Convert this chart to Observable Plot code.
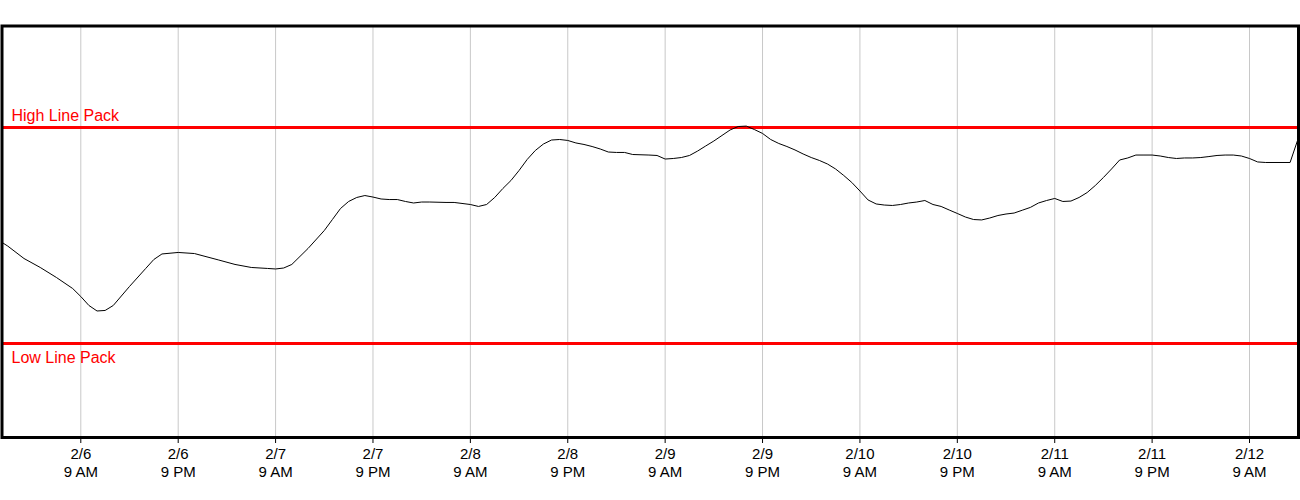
<!DOCTYPE html>
<html>
<head>
<meta charset="utf-8">
<script src="https://cdn.jsdelivr.net/npm/d3@7"></script>
<script src="https://cdn.jsdelivr.net/npm/@observablehq/plot@0.6"></script>
<style>
  html, body { margin: 0; padding: 0; background: #fff; }
  #chart svg { display: block; }
</style>
</head>
<body>
<div id="chart"></div>
<script>
// ---- Data ----
const startTime = "2021-02-05T23:00";
const endTime = "2021-02-12T15:00";

// hours elapsed since startTime
const hours = [0,1,3,5,7,9,10,11,12,13,14,16,18,19,20,22,24,27,29,31,33,34,35,36,38,40,41,42,43,44,45,46,47,48,49,50,51,52,53,55,56,58,59,60,61,62,63,64,65,66,67,68,69,70,71,72,73,74,75,76,77,78,80,81,82,83,84,85,86,87,88,89,90,91,92,93,94,95,96,97,98,99,100,101,102,103,104,105,106,107,108,109,110,111,112,113,114,115,116,117,118,119,120,121,122,123,124,125,126,127,128,129,130,131,132,133,134,135,136,137,138,139,140,141,142,143,144,145,146,147,148,149,150,151,152,153,154,155,156,159,160];

// line pack value at each hour
const linePack = [495,490.2,478.7,470.4,461.1,450.9,443.5,435.2,430.1,430.6,435.2,452.8,469.5,477.8,482.9,484.3,483.3,477.3,473.2,470.4,469.5,469,469.9,473.2,488,504.6,514.8,525,531.5,535.2,537,535.6,533.8,533.3,533.3,531.5,530.1,531,531,530.6,530.6,528.7,526.9,528.7,535.2,543.5,550.9,560.2,570.4,578.7,584.7,588.4,588.9,588,585.7,584.3,582.4,580.1,577.3,576.9,576.9,575,574.5,574.1,570.8,571.3,572.2,574.1,578.2,582.9,587.5,592.6,597.7,600.9,601.3,598.1,594.5,588.9,585.2,582.4,579.2,575.5,572.2,569.5,566.2,561.6,555.6,549.1,541.2,532.9,529.2,528.2,527.8,528.7,530.1,531,532.4,528.7,526.9,523.6,520.4,517.1,514.8,514.4,516.2,518.5,519.9,520.8,523.4,526,530.1,532.4,534.3,531.5,531.9,535.2,539.8,546.3,553.7,561.6,569.9,571.8,574.5,574.5,574.5,573.6,572.2,571.3,571.8,571.8,572.2,573.1,574.1,574.5,574.5,573.6,571.3,568.1,567.6,567.6,589.8];

const limitLabels = ["High Line Pack", "Low Line Pack"];
const limitValues = [600, 400];

const tickTimes = ["2021-02-06T09:00","2021-02-06T21:00","2021-02-07T09:00","2021-02-07T21:00","2021-02-08T09:00","2021-02-08T21:00","2021-02-09T09:00","2021-02-09T21:00","2021-02-10T09:00","2021-02-10T21:00","2021-02-11T09:00","2021-02-11T21:00","2021-02-12T09:00"];

// ---- Build tables ----
const t0 = new Date(startTime);
const series = hours.map((h, i) => ({ time: new Date(t0.getTime() + h * 3600e3), value: linePack[i] }));
const ticks = tickTimes.map(s => new Date(s));
const limits = limitLabels.map((label, i) => ({ label, value: limitValues[i] }));

const fmt = d => {
  const h = d.getHours();
  return `${d.getMonth() + 1}/${d.getDate()}\n${((h + 11) % 12) + 1} ${h < 12 ? "AM" : "PM"}`;
};

const chart = Plot.plot({
  width: 1300,
  height: 500,
  marginTop: 25.5,
  marginBottom: 63,
  marginLeft: 1.5,
  marginRight: 2,
  style: { fontFamily: "'Liberation Sans', Arial, sans-serif", fontSize: "15px", background: "#fff", color: "#000" },
  x: { type: "time", domain: [new Date(startTime), new Date(endTime)], range: [-0.86, 1297.7], axis: null },
  y: { domain: [400, 600], range: [343, 127], axis: null },
  marks: [
    Plot.gridX(ticks, { stroke: "#c8c8c8", strokeOpacity: 1, strokeWidth: 1 }),
    Plot.ruleY(limits, { y: "value", stroke: "#ff0000", strokeWidth: 3 }),
    Plot.text(limits.filter(d => d.label === "High Line Pack"), {
      y: "value", text: "label", frameAnchor: "left", textAnchor: "start",
      lineAnchor: "bottom", dx: 9.5, dy: -7, fill: "#ff0000", fontSize: 16
    }),
    Plot.text(limits.filter(d => d.label === "Low Line Pack"), {
      y: "value", text: "label", frameAnchor: "left", textAnchor: "start",
      lineAnchor: "bottom", dx: 9.5, dy: 19, fill: "#ff0000", fontSize: 16
    }),
    Plot.line(series, { x: "time", y: "value", stroke: "#000", strokeWidth: 1, clip: "frame" }),
    Plot.frame({ stroke: "#000", strokeWidth: 3 }),
    Plot.axisX(ticks, {
      anchor: "bottom", tickSize: 6, tickPadding: 3, tickFormat: fmt,
      fontSize: 15, lineHeight: 1.2, label: null, stroke: "#000", fill: "#000"
    })
  ]
});

document.getElementById("chart").appendChild(chart);
</script>
</body>
</html>
